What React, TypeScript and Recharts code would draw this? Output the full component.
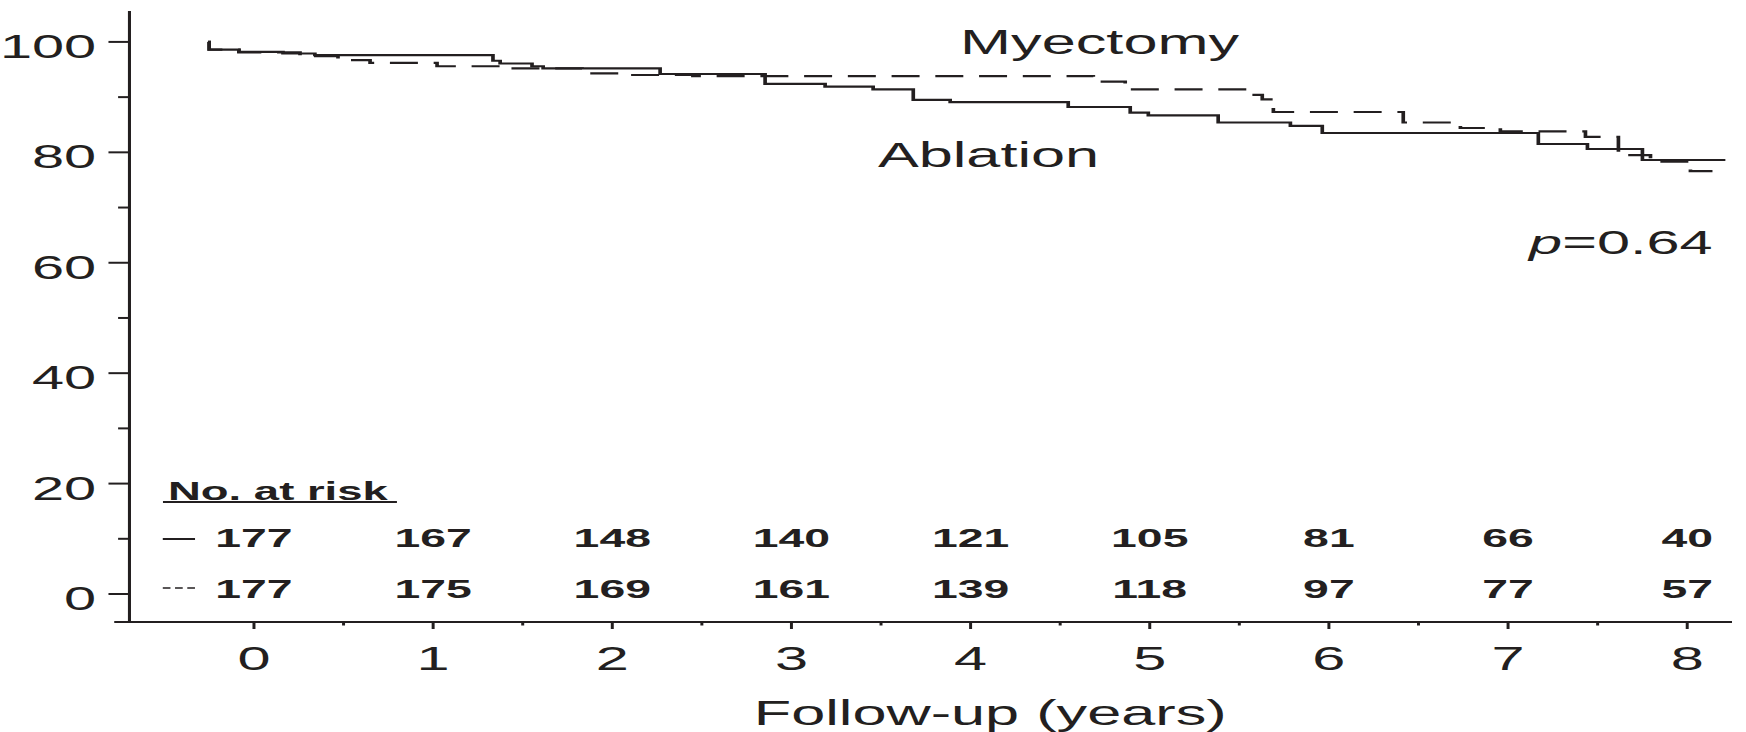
import React from 'react';
import { LineChart, Line, XAxis, YAxis, ReferenceLine, ReferenceDot } from 'recharts';

// Kaplan–Meier estimates (years of follow-up, % free of event)
const ablationYears = [-0.257, -0.25, -0.084, 0.162, 0.34, 1.334, 1.374, 1.552, 1.614, 2.267, 2.853, 3.188, 3.456, 3.68, 3.886, 4.545, 4.891, 4.992, 5.382, 5.785, 5.963, 7.169, 7.443, 7.75, 8.213];
const ablationSurvival = [100, 98.6, 98.2, 97.9, 97.6, 96.6, 96.1, 95.6, 95.2, 94.2, 92.4, 91.9, 91.4, 89.5, 89.1, 88.2, 87.2, 86.7, 85.4, 84.8, 83.5, 81.5, 80.6, 78.6, 78.6];

const myectomyYears = [-0.257, -0.25, -0.084, 0.257, 0.469, 0.648, 1.022, 1.374, 1.831, 2.099, 2.45, 4.685, 4.863, 5.561, 5.628, 5.69, 6.415, 6.734, 6.957, 7.432, 7.616, 7.795, 8.018, 8.141];
const myectomySurvival = [100, 98.6, 98.1, 97.4, 96.7, 96.2, 95.6, 95.2, 94.3, 94.0, 93.8, 92.8, 91.4, 90.4, 89.6, 87.3, 85.4, 84.4, 83.8, 82.8, 79.5, 78.3, 76.6, 76.6];

// Numbers at risk at each whole year
const riskYears = [0, 1, 2, 3, 4, 5, 6, 7, 8];
const ablationAtRisk = [177, 167, 148, 140, 121, 105, 81, 66, 40];
const myectomyAtRisk = [177, 175, 169, 161, 139, 118, 97, 77, 57];

const yTicks = [0, 10, 20, 30, 40, 50, 60, 70, 80, 90, 100];
const xTicks = [0, 0.5, 1, 1.5, 2, 2.5, 3, 3.5, 4, 4.5, 5, 5.5, 6, 6.5, 7, 7.5, 8];

const ablationData = ablationYears.map((t, i) => ({ t, s: ablationSurvival[i] }));
const myectomyData = myectomyYears.map((t, i) => ({ t, s: myectomySurvival[i] }));

const INK = '#231f20';
const FONT = '"Liberation Sans", Arial, Helvetica, sans-serif';
const INNER_W = 998;
const H = 732;
const STRETCH = 1746 / INNER_W;

const YTick = (props: any) => {
  const { x, y, payload } = props;
  const major = payload.value % 20 === 0;
  return (
    <g>
      <line x1={x - (major ? 12 : 6.5)} x2={x} y1={y} y2={y} stroke={INK} strokeWidth={2} />
      {major && (
        <text x={x - 19} y={y + 16} textAnchor="end" fontSize={33} fill={INK} fontFamily={FONT}>
          {payload.value}
        </text>
      )}
    </g>
  );
};

const XTick = (props: any) => {
  const { x, y, payload } = props;
  const major = Number.isInteger(payload.value);
  return (
    <g>
      <line x1={x} x2={x} y1={y} y2={y + (major ? 7 : 3.5)} stroke={INK} strokeWidth={1.7} />
      {major && (
        <text x={x} y={y + 48} textAnchor="middle" fontSize={34} fill={INK} fontFamily={FONT}>
          {payload.value}
        </text>
      )}
    </g>
  );
};

const textShape = (label: React.ReactNode, size: number, anchor: string, weight = 'normal') => (p: any) => (
  <text x={p.cx} y={p.cy} textAnchor={anchor} fontSize={size} fontWeight={weight} fill={INK} fontFamily={FONT}>
    {label}
  </text>
);

const AxisTitle = (p: any) => {
  const vb = p.viewBox;
  return (
    <text x={vb.x + vb.width / 2 + 34} y={vb.y + 103} textAnchor="middle" fontSize={35} fill={INK} fontFamily={FONT}>
      Follow-up (years)
    </text>
  );
};

export default function App() {
  return (
    <div
      style={{
        position: 'absolute',
        left: 0,
        top: 0,
        width: INNER_W,
        height: H,
        background: '#fff',
        transform: `scaleX(${STRETCH})`,
        transformOrigin: '0 0',
      }}
    >
      <LineChart width={INNER_W} height={H} margin={{ top: 11, right: 8, bottom: 0, left: 0 }}>
        <XAxis
          type="number"
          dataKey="t"
          domain={[-0.695, 8.25]}
          allowDataOverflow
          ticks={xTicks}
          interval={0}
          tick={<XTick />}
          tickSize={0}
          tickMargin={0}
          axisLine={false}
          tickLine={false}
          height={110}
          label={{ content: AxisTitle }}
        />
        <YAxis
          type="number"
          domain={[-5.07, 105.6]}
          allowDataOverflow
          ticks={yTicks}
          interval={0}
          tick={<YTick />}
          tickSize={0}
          tickMargin={0}
          tickLine={false}
          axisLine={{ stroke: INK, strokeWidth: 1.75 }}
          width={74}
        />
        <ReferenceLine
          segment={[{ x: -0.78, y: -5.07 }, { x: 8.25, y: -5.07 }]}
          stroke={INK}
          strokeWidth={2}
          ifOverflow="visible"
        />

        <Line
          data={myectomyData}
          dataKey="s"
          type="stepAfter"
          stroke={INK}
          strokeWidth={2.1}
          strokeDasharray="16 9"
          dot={false}
          isAnimationActive={false}
        />
        <Line
          data={ablationData}
          dataKey="s"
          type="stepAfter"
          stroke={INK}
          strokeWidth={2.1}
          dot={false}
          isAnimationActive={false}
        />

        <ReferenceDot x={4.72} y={97.8} r={0} ifOverflow="visible" shape={textShape('Myectomy', 35, 'middle')} />
        <ReferenceDot x={4.1} y={77.4} r={0} ifOverflow="visible" shape={textShape('Ablation', 35, 'middle')} />
        <ReferenceDot
          x={7.63}
          y={61.6}
          r={0}
          ifOverflow="visible"
          shape={textShape(
            <>
              <tspan fontStyle="italic">p</tspan>=0.64
            </>,
            34,
            'middle'
          )}
        />

        {/* Numbers at risk */}
        <ReferenceDot x={-0.48} y={17.0} r={0} ifOverflow="visible" shape={textShape('No. at risk', 26, 'start', 'bold')} />
        <ReferenceLine
          segment={[{ x: -0.508, y: 16.67 }, { x: 0.798, y: 16.67 }]}
          stroke={INK}
          strokeWidth={2}
          ifOverflow="visible"
        />
        <ReferenceLine
          segment={[{ x: -0.509, y: 9.96 }, { x: -0.329, y: 9.96 }]}
          stroke={INK}
          strokeWidth={2}
          ifOverflow="visible"
        />
        <ReferenceLine
          segment={[{ x: -0.509, y: 1.09 }, { x: -0.329, y: 1.09 }]}
          stroke={INK}
          strokeWidth={1.6}
          strokeDasharray="4.4 2.6"
          ifOverflow="visible"
        />
        {riskYears.map((yr, i) => (
          <ReferenceDot
            key={`a${yr}`}
            x={yr}
            y={8.51}
            r={0}
            ifOverflow="visible"
            shape={textShape(String(ablationAtRisk[i]), 26.5, 'middle', 'bold')}
          />
        ))}
        {riskYears.map((yr, i) => (
          <ReferenceDot
            key={`m${yr}`}
            x={yr}
            y={-0.72}
            r={0}
            ifOverflow="visible"
            shape={textShape(String(myectomyAtRisk[i]), 26.5, 'middle', 'bold')}
          />
        ))}
      </LineChart>
    </div>
  );
}
